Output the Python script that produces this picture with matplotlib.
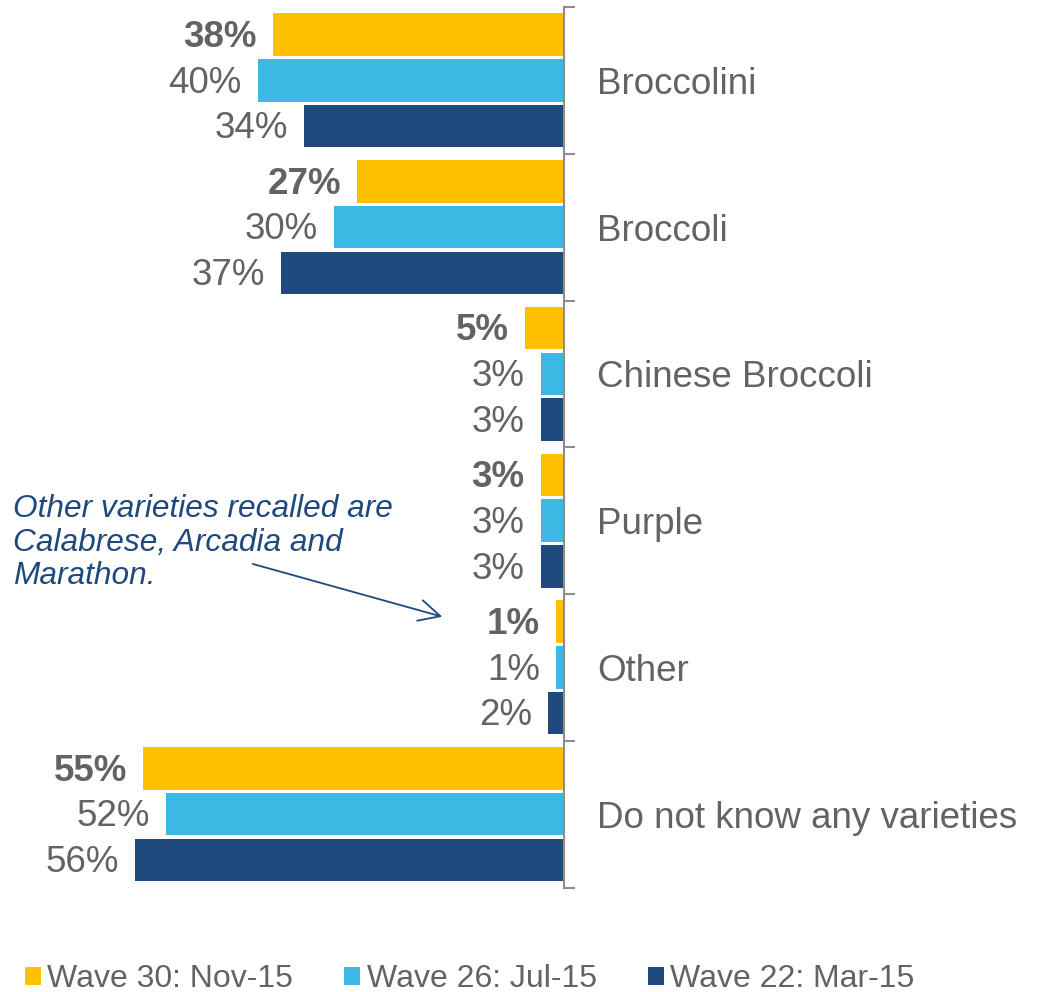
import matplotlib
matplotlib.use("Agg")
import matplotlib.pyplot as plt
import numpy as np

plt.rcParams['font.family'] = ['Liberation Sans', 'DejaVu Sans']

categories = ["Broccolini", "Broccoli", "Chinese Broccoli", "Purple", "Other",
              "Do not know any varieties"]
wave_labels = ["Wave 30: Nov-15", "Wave 26: Jul-15", "Wave 22: Mar-15"]
wave30 = [38, 27, 5, 3, 1, 55]
wave26 = [40, 30, 3, 3, 1, 52]
wave22 = [34, 37, 3, 3, 2, 56]

colors = ["#FFC000", "#3DB7E4", "#1F497D"]
text_grey = "#636363"
axis_grey = "#8C8C8C"

fig = plt.figure(figsize=(10.45, 9.92), dpi=100)
ax = fig.add_axes([0.0, 1 - 887.5 / 992, 563.5 / 1045, (887.5 - 7) / 992])

y = np.arange(len(categories))
slot = 0.3115
bar_h = 0.29
series = [wave30, wave26, wave22]
bars = []
for i, (vals, col, lab) in enumerate(zip(series, colors, wave_labels)):
    pos = y + (i - 1) * slot
    b = ax.barh(pos, vals, height=bar_h, color=col, label=lab, linewidth=0)
    bars.append(b)
    for p, v in zip(pos, vals):
        ax.annotate(f"{v}%", xy=(v, p), xytext=(-11.5, -2), textcoords="offset points",
                    ha="right", va="center", fontsize=26.5, color=text_grey,
                    fontweight="bold" if i == 0 else "normal")

ax.set_xlim(73.7, 0)
ax.set_ylim(len(categories) - 0.5, -0.5)

# axis on the right: labels at group centres, ticks between groups
for s in ["left", "top", "bottom"]:
    ax.spines[s].set_visible(False)
ax.spines["right"].set_color(axis_grey)
ax.spines["right"].set_linewidth(1.5)
ax.set_xticks([])
ax.yaxis.tick_right()
ax.set_yticks(y)
ax.set_yticklabels(categories)
ax.set_yticks(np.arange(len(categories) + 1) - 0.5, minor=True)
ax.tick_params(axis="y", which="major", length=0, pad=24, labelsize=26.5,
               labelcolor=text_grey)
ax.tick_params(axis="y", which="minor", length=8, width=1.5, color=axis_grey,
               direction="out", right=True, left=False)
ax.patch.set_alpha(0)

# note about other varieties
ax.text(72.0, 2.82, "Other varieties recalled are\nCalabrese, Arcadia and\nMarathon.",
        ha="left", va="top", fontsize=22.8, style="italic", color="#1F497D",
        linespacing=1.15)
ax.annotate("", xy=(15.5, 3.66), xytext=(41.0, 3.29),
            arrowprops=dict(arrowstyle="->", color="#1F497D", lw=1.3,
                            mutation_scale=38))

fig.legend(handles=bars, labels=wave_labels, loc="center left",
           bbox_to_anchor=(25 / 1045, 1 - 979 / 992), ncol=3, frameon=False,
           fontsize=23, labelcolor=text_grey, handlelength=0.5, handleheight=0.5,
           handletextpad=0.2, columnspacing=1.6, borderpad=0, borderaxespad=0)

fig.savefig("out.png", dpi=100)
